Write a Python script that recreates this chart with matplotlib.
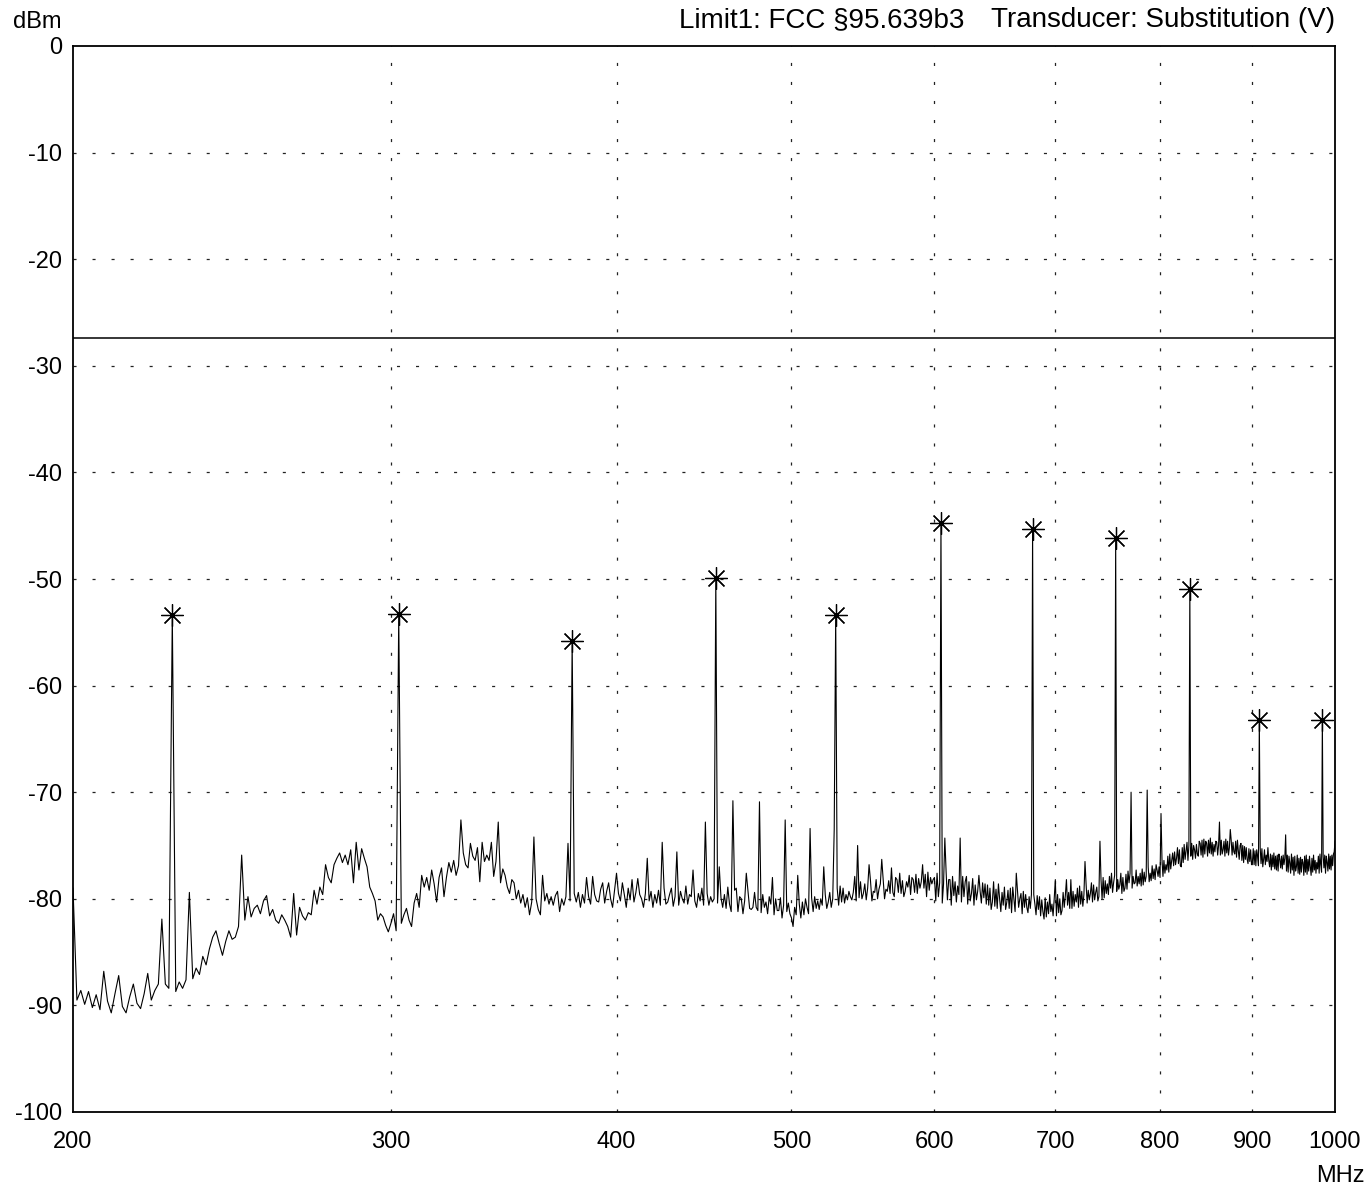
import numpy as np
import matplotlib
matplotlib.use("Agg")
import matplotlib.pyplot as plt
from matplotlib.ticker import FixedLocator, NullLocator, FixedFormatter

plt.rcParams['font.family'] = ['Liberation Sans', 'DejaVu Sans']
plt.rcParams['axes.unicode_minus'] = False
plt.rcParams['lines.scale_dashes'] = False

# ---- sweep settings ----
f_start = 200.0
f_stop = 1000.0
n_points = 801

# ---- noise floor of the trace (dBm), one value per sweep point (1 MHz steps) ----
noise_levels = [
    -79.0, -89.5, -88.6, -89.9, -88.7, -90.2, -89.0, -90.4, -86.8, -89.6, -90.7, -88.9, -87.2, -90.1, -90.7, -89.2, -88.0, -89.8, -90.3, -88.9,
    -87.0, -89.5, -88.6, -88.0, -88.5, -88.0, -88.4, -88.5, -88.7, -87.8, -88.4, -87.6, -88.0, -87.5, -86.5, -87.1, -85.4, -86.2, -84.7, -83.6,
    -83.0, -84.2, -85.3, -84.0, -83.0, -83.8, -83.6, -82.6, -82.4, -82.0, -79.8, -81.7, -80.9, -80.6, -81.4, -80.2, -79.7, -81.6, -81.0, -82.0,
    -82.3, -81.5, -82.0, -82.6, -83.6, -79.5, -83.4, -80.8, -81.6, -82.0, -81.3, -81.5, -79.2, -80.5, -78.9, -79.6, -76.8, -78.0, -78.5, -76.8,
    -76.2, -75.7, -76.6, -75.9, -76.8, -75.4, -78.5, -74.7, -77.3, -75.3, -76.2, -77.0, -78.9, -79.5, -80.2, -82.0, -81.4, -81.7, -82.5, -83.1,
    -82.3, -81.4, -83.0, -82.0, -82.3, -81.5, -80.9, -82.0, -82.6, -80.4, -79.5, -80.8, -77.8, -78.9, -78.0, -79.2, -77.3, -78.6, -80.3, -78.0,
    -77.1, -79.8, -78.0, -76.6, -77.5, -76.4, -77.8, -76.9, -76.5, -75.7, -76.8, -77.1, -74.8, -76.0, -76.4, -75.2, -78.4, -74.7, -76.5, -75.9,
    -76.4, -74.7, -77.9, -76.5, -76.9, -78.5, -77.2, -77.8, -78.9, -79.5, -78.2, -78.5, -80.0, -79.2, -80.4, -79.6, -80.8, -79.9, -81.5, -80.3,
    -79.5, -80.0, -81.0, -81.5, -77.8, -80.2, -79.5, -80.5, -79.8, -80.6, -79.7, -79.3, -81.2, -80.0, -80.6, -79.8, -80.0, -80.2, -80.0, -79.5,
    -80.3, -79.4, -80.8, -79.6, -80.4, -78.0, -79.8, -80.5, -77.9, -79.6, -80.2, -80.3, -79.1, -78.5, -80.4, -79.3, -78.5, -80.0, -80.8, -79.2,
    -77.6, -79.5, -80.2, -78.5, -79.6, -80.8, -79.0, -80.1, -78.2, -80.3, -79.4, -78.1, -79.6, -80.0, -80.8, -79.5, -79.8, -80.2, -79.3, -80.8,
    -79.6, -80.4, -79.2, -80.6, -80.0, -79.0, -80.5, -80.3, -79.6, -79.0, -80.7, -79.8, -80.0, -80.6, -79.3, -80.0, -80.4, -78.8, -80.5, -79.6,
    -79.8, -77.3, -80.2, -80.8, -79.5, -80.2, -79.0, -80.6, -80.0, -79.5, -80.6, -79.8, -80.3, -80.0, -80.0, -80.4, -79.5, -79.9, -80.8, -79.6,
    -80.9, -78.9, -80.5, -81.2, -80.0, -79.2, -79.0, -81.2, -79.8, -80.0, -81.4, -80.2, -80.0, -79.3, -80.9, -81.0, -80.8, -79.4, -80.8, -81.1,
    -80.3, -81.3, -79.6, -80.8, -80.3, -81.4, -79.8, -80.5, -80.5, -81.5, -80.0, -81.1, -81.1, -79.9, -81.8, -80.6, -81.0, -81.2, -80.4, -81.4,
    -81.8, -82.6, -80.8, -81.5, -81.0, -80.5, -81.8, -80.3, -81.5, -80.0, -80.8, -81.4, -80.8, -79.9, -81.2, -79.8, -80.9, -80.2, -81.0, -80.0,
    -80.6, -80.5, -79.6, -80.9, -80.3, -79.4, -80.8, -80.0, -80.0, -80.0, -79.0, -80.6, -78.8, -80.3, -79.0, -80.4, -79.6, -80.1, -79.3, -79.8,
    -80.1, -79.4, -77.9, -80.2, -79.0, -79.9, -78.4, -80.0, -79.5, -78.6, -80.1, -79.0, -79.0, -78.3, -80.2, -79.3, -79.4, -78.2, -80.0, -79.1,
    -78.6, -79.0, -78.1, -80.0, -79.1, -79.3, -78.3, -79.5, -77.1, -79.4, -79.8, -78.0, -78.2, -79.4, -77.6, -79.5, -78.3, -79.8, -79.3, -78.4,
    -78.9, -77.8, -79.6, -78.0, -78.2, -79.4, -77.7, -79.5, -78.1, -79.0, -78.4, -76.8, -79.0, -77.7, -79.8, -77.5, -79.2, -78.0, -78.6, -78.2,
    -78.0, -80.2, -77.6, -79.8, -78.5, -79.0, -80.4, -78.6, -79.0, -77.5, -80.1, -78.2, -78.2, -80.6, -77.9, -79.7, -78.4, -80.3, -78.8, -79.6,
    -79.0, -80.3, -77.9, -79.8, -78.4, -77.9, -80.5, -78.4, -80.2, -79.5, -78.1, -80.6, -78.7, -80.1, -79.3, -77.8, -79.3, -80.4, -78.5, -79.9,
    -78.6, -80.5, -78.7, -80.6, -79.0, -81.0, -80.3, -78.4, -80.7, -79.1, -80.9, -78.6, -80.0, -81.2, -79.4, -80.6, -78.9, -81.0, -80.3, -79.2,
    -80.9, -79.0, -81.3, -78.9, -80.0, -81.2, -79.5, -79.2, -80.8, -80.0, -79.5, -81.4, -79.3, -80.8, -79.6, -80.8, -81.3, -79.8, -80.9, -79.6,
    -80.5, -79.6, -80.5, -81.5, -79.7, -81.0, -79.8, -81.6, -80.1, -81.2, -81.9, -79.9, -81.7, -80.3, -81.4, -79.6, -81.2, -80.5, -81.6, -80.0,
    -80.5, -81.6, -79.6, -81.3, -80.0, -81.5, -81.1, -79.4, -80.8, -79.7, -78.2, -80.6, -79.4, -80.9, -78.2, -80.9, -79.3, -80.7, -79.6, -80.3,
    -79.0, -80.8, -78.8, -80.5, -79.3, -80.7, -79.6, -80.0, -78.6, -80.4, -79.2, -80.1, -79.5, -78.5, -80.3, -78.7, -80.1, -79.4, -78.9, -80.2,
    -79.8, -79.0, -78.2, -80.0, -78.0, -79.9, -78.3, -79.5, -78.6, -79.6, -77.9, -79.0, -77.6, -79.4, -78.5, -77.8, -79.0, -79.3, -78.2, -79.1,
    -78.7, -77.6, -79.5, -78.0, -79.3, -79.0, -77.7, -79.1, -77.4, -78.5, -77.6, -78.5, -79.0, -77.9, -78.6, -78.5, -77.3, -78.8, -77.9, -78.6,
    -77.6, -78.8, -77.2, -78.7, -77.5, -78.4, -77.9, -78.0, -77.0, -78.4, -77.6, -78.3, -76.9, -78.1, -77.2, -78.2, -76.8, -77.3, -77.9, -77.0,
    -78.0, -77.2, -76.3, -77.9, -76.4, -77.6, -76.8, -77.3, -76.0, -77.5, -75.8, -77.2, -76.4, -75.7, -76.9, -75.6, -76.8, -76.2, -75.2, -76.7,
    -75.4, -76.9, -77.0, -75.2, -76.6, -74.9, -76.3, -75.5, -74.7, -76.4, -75.0, -75.8, -76.0, -74.8, -76.3, -75.0, -75.4, -76.2, -74.9, -75.8,
    -76.0, -74.6, -74.8, -75.9, -74.5, -76.1, -74.4, -75.8, -74.6, -74.8, -76.0, -74.5, -75.7, -74.3, -75.8, -74.7, -76.0, -74.9, -75.6, -74.6,
    -74.7, -75.9, -75.0, -75.3, -75.9, -74.5, -75.8, -75.4, -74.6, -76.0, -74.4, -75.7, -74.6, -75.9, -75.2, -75.0, -74.5, -75.9, -74.7, -75.6,
    -75.8, -74.6, -76.1, -74.5, -75.5, -76.3, -75.0, -74.8, -76.4, -75.0, -76.6, -75.1, -76.3, -75.2, -76.3, -76.7, -75.3, -76.5, -75.4, -76.8,
    -76.6, -75.3, -76.8, -75.5, -76.9, -75.4, -76.0, -76.9, -76.0, -75.2, -76.7, -75.3, -77.0, -76.3, -75.4, -76.8, -75.9, -76.5, -75.2, -76.4,
    -77.0, -75.8, -77.3, -75.9, -77.0, -75.7, -77.2, -76.0, -77.3, -75.9, -77.4, -75.8, -76.3, -77.1, -76.0, -77.2, -75.9, -76.8, -76.2, -76.5,
    -77.4, -75.9, -77.5, -76.0, -76.6, -77.6, -75.8, -77.3, -76.1, -77.8, -76.0, -77.4, -77.0, -75.9, -77.6, -76.2, -77.7, -76.1, -77.5, -76.3,
    -76.6, -77.8, -76.0, -77.5, -75.9, -77.7, -76.3, -77.4, -76.0, -77.0, -77.8, -76.2, -77.5, -75.9, -77.3, -76.4, -77.6, -76.6, -77.2, -76.0,
    -77.6, -75.8, -76.8, -77.5, -76.4, -76.0, -77.1, -75.9, -77.6, -76.0, -76.6, -77.4, -75.8, -77.2, -76.0, -77.3, -75.9, -76.9, -75.8, -75.6,
    -74.6,
]

# ---- spurious lines (MHz, dBm) ----
spur_freqs = [224, 232, 248, 328, 344, 360, 376, 416, 424, 432,
              448, 456, 464, 472, 480, 488, 496, 504, 512, 521,
              528, 544, 552, 561, 608, 620, 666, 700, 727, 741,
              771, 787, 801, 863, 875, 939]
spur_levels = [-81.9, -79.4, -75.9, -72.6, -72.8, -74.2, -74.8, -76.2, -74.7, -75.6,
               -72.8, -77.0, -70.8, -77.6, -70.9, -78.0, -72.6, -77.8, -73.4, -77.0,
               -73.5, -75.0, -76.8, -76.3, -74.3, -74.3, -77.6, -78.2, -76.5, -74.6,
               -70.0, -69.8, -72.0, -72.8, -73.5, -74.0]

# ---- harmonics with peak markers (MHz, dBm) ----
harmonic_freqs = [227, 303, 378, 454, 529, 605, 680, 756, 831, 908, 984]
harmonic_levels = [-53.4, -53.3, -55.8, -49.9, -53.4, -44.7, -45.3, -46.2, -50.9, -63.2, -63.2]

limit_level = -27.4

x_ticks = [200, 300, 400, 500, 600, 700, 800, 900, 1000]
x_tick_labels = ['200', '300', '400', '500', '600', '700', '800', '900', '1000']
y_ticks = [-100, -90, -80, -70, -60, -50, -40, -30, -20, -10, 0]
y_tick_labels = ['-100', '-90', '-80', '-70', '-60', '-50', '-40', '-30', '-20', '-10', '0']

# ---- build trace ----
freqs = np.linspace(f_start, f_stop, n_points)
trace = np.array(noise_levels, dtype=float)
for f, lv in zip(spur_freqs + harmonic_freqs, spur_levels + harmonic_levels):
    k = int(np.argmin(np.abs(freqs - f)))
    trace[k] = lv
marker_x = [freqs[int(np.argmin(np.abs(freqs - f)))] for f in harmonic_freqs]

W, H = 1366, 1191
fig = plt.figure(figsize=(W / 100, H / 100), dpi=100)
L, R, T, B = 73, 1335, 46, 1112
ax = fig.add_axes([L / W, 1 - B / H, (R - L) / W, (B - T) / H])
ax.set_xscale('log')
ax.set_xlim(f_start, f_stop)
ax.set_ylim(-100, 0)

# grid
for x in x_ticks[1:-1]:
    ax.axvline(x, color='#222222', lw=0.9, dashes=(2.2, 11.5), zorder=1)
for y in y_ticks[1:-1]:
    ax.axhline(y, color='#222222', lw=0.9, dashes=(2.2, 11.5), zorder=1)

ax.axhline(limit_level, color='black', lw=1.1, zorder=2)
ax.plot(freqs, trace, color='black', lw=0.8, zorder=3)
ax.plot(marker_x, harmonic_levels, linestyle='none', marker=(8, 2, 0), ms=16,
        mec='black', mfc='none', mew=0.9, zorder=4)

ax.xaxis.set_major_locator(FixedLocator(x_ticks))
ax.xaxis.set_major_formatter(FixedFormatter(x_tick_labels))
ax.xaxis.set_minor_locator(NullLocator())
ax.yaxis.set_major_locator(FixedLocator(y_ticks))
ax.yaxis.set_major_formatter(FixedFormatter(y_tick_labels))
ax.tick_params(axis='both', length=0, labelsize=17, colors='black')
ax.tick_params(axis='x', pad=14)
ax.tick_params(axis='y', pad=8)
for s in ax.spines.values():
    s.set_linewidth(1.3)
    s.set_color('black')

fig.text(62 / W, 1 - 22 / H, 'dBm', ha='right', va='center', fontsize=17)
fig.text(964 / W, 1 - 20 / H, 'Limit1: FCC §95.639b3', ha='right', va='center', fontsize=20)
fig.text(1335 / W, 1 - 20 / H, 'Transducer: Substitution (V)', ha='right', va='center', fontsize=20)
fig.text(1340 / W, 1 - 1176 / H, 'MHz', ha='center', va='center', fontsize=17)

fig.savefig('out.png', dpi=100, facecolor='white')
